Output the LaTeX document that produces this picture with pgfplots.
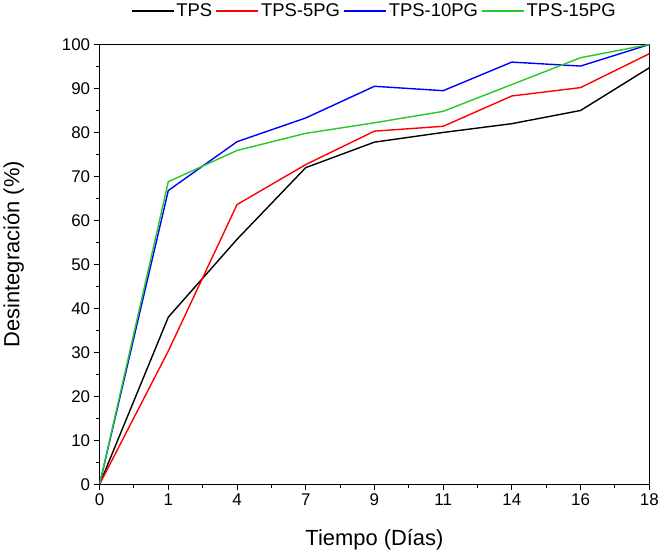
\documentclass[border=0pt]{standalone}
\usepackage{fontspec}
\setmainfont{Liberation Sans}
\usepackage{pgfplots}
\pgfplotsset{compat=1.18}
\definecolor{ogreen}{RGB}{40,200,40}
\begin{document}
\begin{tikzpicture}
\begin{axis}[
  scale only axis,
  width=550bp, height=440bp,
  xmin=0, xmax=8, ymin=0, ymax=100,
  xtick={0,1,2,3,4,5,6,7,8},
  xticklabels={0,1,4,7,9,11,14,16,18},
  minor x tick num=1,
  ytick={0,10,20,30,40,50,60,70,80,90,100},
  minor y tick num=1,
  tick align=outside,
  xtick pos=bottom, ytick pos=left,
  major tick length=6bp, minor tick length=3.5bp,
  every tick/.style={black, line width=1bp},
  axis line style={line width=1.3bp},
  tick label style={font=\fontsize{17}{20}\selectfont},
  /pgf/number format/assume math mode=true,
  xlabel={Tiempo (Días)}, ylabel={Desintegración (\%)},
  label style={font=\fontsize{22}{25}\selectfont},
  xlabel style={at={(axis description cs:0.5,0)}, anchor=center, yshift=-55bp},
  ylabel style={at={(axis description cs:0,0.523)}, anchor=center, yshift=86bp},
  legend columns=4,
  legend style={at={(0.5,1.0)}, anchor=south, draw=none, fill=none, yshift=22bp,
    font=\fontsize{18.5}{21}\selectfont, inner sep=2bp,
    /tikz/every even column/.append style={column sep=1.5bp}},
  legend image code/.code={\draw[#1] (0bp,0bp) -- (42bp,0bp);},
  every axis plot/.append style={line width=1.4bp},
]
\addplot[black] coordinates {(0,0) (1,38) (2,55.7) (3,72) (4,77.8) (5,80) (6,82) (7,85) (8,94.7)};
\addlegendentry{TPS}
\addplot[red] coordinates {(0,0) (1,30.3) (2,63.6) (3,72.7) (4,80.3) (5,81.4) (6,88.3) (7,90.2) (8,97.9)};
\addlegendentry{TPS-5PG}
\addplot[blue] coordinates {(0,0) (1,66.8) (2,77.9) (3,83.3) (4,90.5) (5,89.5) (6,96) (7,95.1) (8,100)};
\addlegendentry{TPS-10PG}
\addplot[ogreen] coordinates {(0,0) (1,68.8) (2,75.9) (3,79.8) (4,82.2) (5,84.8) (6,90.9) (7,97) (8,100)};
\addlegendentry{TPS-15PG}
\end{axis}
\end{tikzpicture}
\end{document}
